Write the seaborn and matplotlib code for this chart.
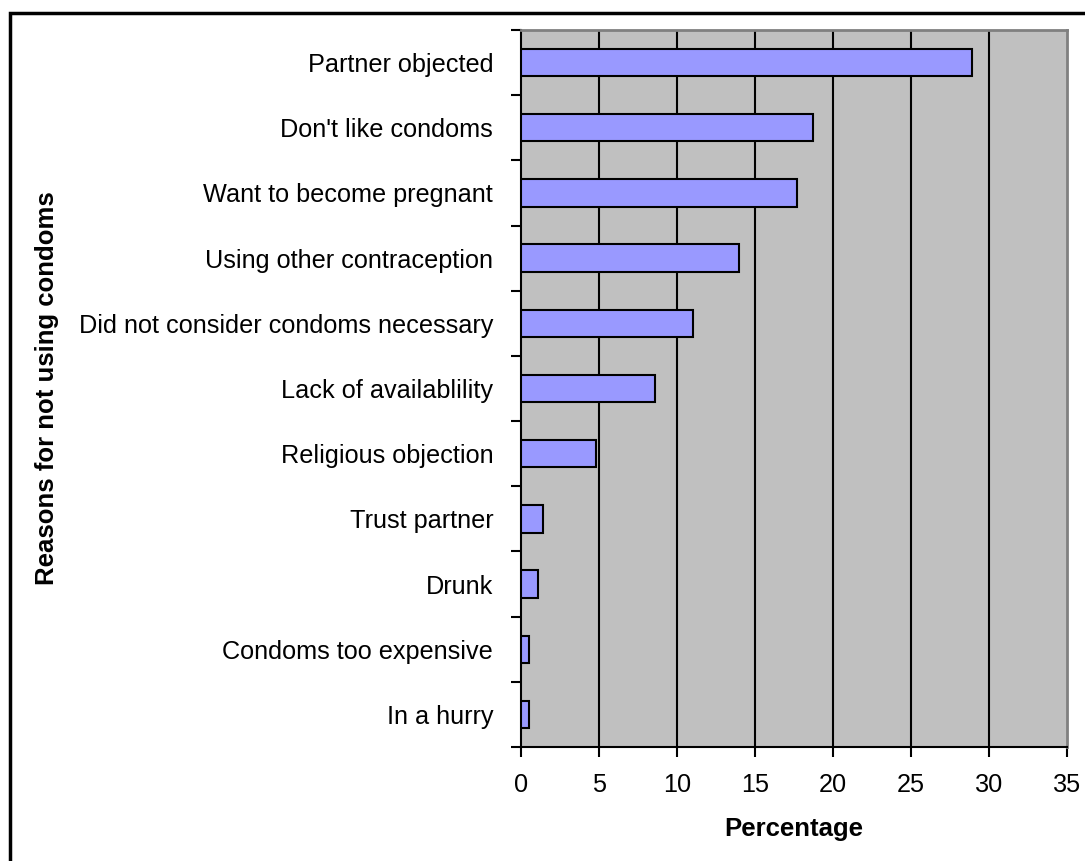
import pandas as pd
import seaborn as sns
import matplotlib.pyplot as plt
from matplotlib.patches import Rectangle

# values
reasons = ["Partner objected", "Don't like condoms", "Want to become pregnant",
           "Using other contraception", "Did not consider condoms necessary",
           "Lack of availablility", "Religious objection", "Trust partner",
           "Drunk", "Condoms too expensive", "In a hurry"]
percent = [28.9, 18.7, 17.7, 14.0, 11.0, 8.6, 4.8, 1.4, 1.1, 0.5, 0.5]
xticks = [0, 5, 10, 15, 20, 25, 30, 35]

df = pd.DataFrame({"reason": reasons, "pct": percent})

sns.set_style("white")
plt.rcParams['font.family'] = ['Liberation Sans', 'DejaVu Sans']
plt.rcParams.update({"text.color": "black", "axes.labelcolor": "black",
                     "xtick.color": "black", "ytick.color": "black"})

fig = plt.figure(figsize=(10.85, 8.61), dpi=100)
ax = fig.add_axes([521 / 1085, 1 - 747 / 861, (1067 - 521) / 1085, (747 - 30) / 861])

sns.barplot(data=df, x="pct", y="reason", order=reasons, orient="h",
            color="#9999FF", saturation=1, width=0.42,
            edgecolor="black", linewidth=1.5, ax=ax, zorder=3)

ax.set_facecolor("#C0C0C0")
ax.set_xlim(0, 35)
ax.set_ylim(len(reasons) - 0.5, -0.5)
ax.set_xticks(xticks)
ax.set_xticklabels([str(t) for t in xticks], fontsize=18.2)
for t in xticks[1:-1]:
    ax.axvline(t, color="black", lw=1.5, zorder=1)

# y ticks sit between categories, labels centred on bars
ax.set_yticks(range(len(reasons)))
ax.set_yticklabels(reasons, fontsize=18.2)
ax.set_yticks([i - 0.5 for i in range(len(reasons) + 1)], minor=True)
ax.tick_params(axis="y", which="major", left=True, length=0, pad=20)
ax.tick_params(axis="y", which="minor", left=True, length=7, width=1.5,
               direction="out", color="black")
ax.tick_params(axis="x", bottom=True, length=7, width=1.5, direction="out",
               color="black", pad=12)

for side in ["top", "right"]:
    ax.spines[side].set_color("#808080")
    ax.spines[side].set_linewidth(2)
for side in ["left", "bottom"]:
    ax.spines[side].set_color("black")
    ax.spines[side].set_linewidth(1.5)

ax.set_xlabel("Percentage", fontsize=18.5, fontweight="bold", labelpad=14)
ax.set_ylabel("")
fig.text(47 / 1085, 1 - 388 / 861, "Reasons for not using condoms", rotation=90,
         fontsize=18.5, fontweight="bold", ha="center", va="center")

# outer chart frame (partly cut off at right and bottom)
fig.patches.append(Rectangle((10 / 1085, -0.1), 1.2, 1.1 - 13 / 861,
                             transform=fig.transFigure, fill=False,
                             edgecolor="black", lw=2.5))

fig.savefig("out.png", dpi=100)
